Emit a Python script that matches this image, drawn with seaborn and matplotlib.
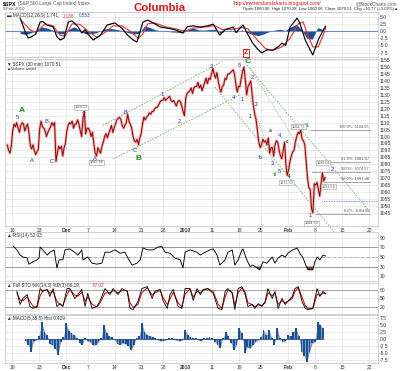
import numpy as np
import matplotlib
matplotlib.use("Agg")
import matplotlib.pyplot as plt
import seaborn as sns

sns.set_theme(style="white")
plt.rcParams['font.family'] = ['Liberation Sans', 'DejaVu Sans']

# ---------------- data (x = trading-day index, Nov 13 2009 = 0) ----------------
tick_days = [1, 6, 11, 15, 20, 25, 29, 33, 38, 43, 47, 52, 57, 62, 67]
tick_labels = ["16", "23", "Dec", "7", "14", "21", "28", "2010", "11", "19", "25", "Feb", "8", "15", "22"]
bold_ticks = ["Dec", "2010", "Feb"]

# 30-min path condensed to 4 readings per trading day
price_days = [
    [1094, 1090, 1088, 1093], [1104, 1109, 1107, 1110], [1106, 1103, 1108, 1110],
    [1109, 1104, 1107, 1109], [1103, 1094, 1091, 1094], [1090, 1087, 1089, 1091],
    [1106, 1111, 1107, 1106], [1104, 1100, 1103, 1105], [1107, 1110, 1108, 1110],
    [1082, 1088, 1093, 1091], [1093, 1086, 1092, 1095], [1104, 1108, 1110, 1109],
    [1111, 1106, 1109, 1109], [1112, 1109, 1104, 1100], [1113, 1118, 1102, 1106],
    [1106, 1104, 1100, 1103], [1095, 1088, 1086, 1092], [1090, 1088, 1093, 1096],
    [1100, 1102, 1099, 1102], [1105, 1108, 1103, 1106], [1109, 1112, 1113, 1114],
    [1112, 1108, 1106, 1108], [1110, 1116, 1111, 1109], [1106, 1100, 1097, 1096],
    [1098, 1094, 1099, 1102], [1109, 1114, 1112, 1114], [1115, 1117, 1116, 1118],
    [1118, 1120, 1121, 1121], [1123, 1125, 1126, 1126], [1128, 1126, 1127, 1128],
    [1129, 1126, 1125, 1126], [1124, 1122, 1125, 1126], [1125, 1122, 1118, 1115],
    [1128, 1131, 1132, 1133], [1135, 1131, 1135, 1136], [1136, 1139, 1135, 1137],
    [1133, 1136, 1139, 1142], [1138, 1142, 1141, 1145], [1149, 1145, 1142, 1146],
    [1140, 1135, 1132, 1136], [1137, 1142, 1141, 1145], [1145, 1146, 1147, 1148],
    [1145, 1138, 1132, 1136], [1136, 1142, 1147, 1150], [1141, 1130, 1136, 1138],
    [1140, 1131, 1122, 1116], [1112, 1104, 1096, 1092], [1094, 1098, 1096, 1097],
    [1094, 1099, 1088, 1092], [1092, 1086, 1094, 1097], [1096, 1090, 1086, 1084],
    [1090, 1096, 1080, 1072], [1076, 1082, 1086, 1089], [1090, 1096, 1100, 1103],
    [1102, 1104.7, 1098, 1097], [1094, 1082, 1070, 1063], [1062, 1048, 1045, 1066],
    [1065, 1067, 1062, 1057], [1066, 1074, 1068, 1070.5],
]

macd_x = [2.5, 3.0, 3.6, 4.0, 4.6, 5.4, 6.2, 6.7, 7.5, 8.6, 9.3, 9.9, 10.6, 11.4, 12.1, 13.2,
          13.9, 14.5, 15.0, 16.0, 17.3, 18.6, 20.0, 21.3, 22.4, 23.4, 24.1, 25.2, 26.1, 27.4,
          28.4, 29.7, 31.1, 32.6, 33.4, 34.5, 35.8, 37.2, 38.2, 39.4, 40.4, 41.9, 42.4, 43.7,
          44.4, 45.5, 46.5, 47.2, 48.1, 49.2, 50.2, 50.9, 51.6, 52.4, 53.3, 53.7, 54.2, 55.2,
          56.1, 56.6, 57.6, 58.3, 59.0]
macd_v = [4.5, 2.0, -1.0, -2.4, -2.0, -1.0, 3.1, 3.3, 2.0, 1.5, -2.0, -3.1, -2.5, 3.1, 3.5, 1.5,
          -0.7, 0.5, -1.0, -3.1, -1.5, 2.1, 2.8, 1.0, -1.5, -3.1, -3.8, 3.1, 3.8, 2.5,
          1.4, 1.0, 0.5, -0.7, 1.5, 1.8, 1.4, 1.8, 2.4, -1.4, 0.5, 1.4, -0.5, 2.1,
          -0.5, -4.2, -6.5, -7.6, -6.5, -6.6, -5.5, -4.2, -5.0, 1.4, 3.5, 4.5, 2.8, -3.1,
          -6.5, -8.3, -3.1, -0.5, 1.74]
signal_x = [2.8, 4.3, 5.4, 7.1, 8.6, 9.9, 10.8, 12.1, 13.6, 15.0, 16.7, 18.2, 19.7, 21.3, 22.8,
            24.3, 25.2, 26.1, 27.4, 29.3, 31.1, 33.0, 34.5, 36.7, 38.5, 39.8, 41.7, 43.5, 44.6,
            46.3, 47.8, 49.1, 50.9, 52.4, 53.9, 54.8, 55.7, 56.6, 57.6, 58.5, 59.0]
signal_v = [3.5, 0.5, -0.5, 2.5, 1.8, -1.5, -1.8, 2.5, 2.3, 0.0, -2.2, -0.5, 1.8, 1.8, 0.0,
            -2.5, -1.0, 2.5, 2.8, 1.5, 0.8, 0.0, 1.0, 1.4, 1.9, 0.5, 0.6, 1.2, 0.8,
            -3.0, -6.0, -6.8, -5.5, -2.5, 2.5, 3.2, -1.5, -5.5, -5.5, -1.5, 1.19]
macd_hist = [-0.8, -1.2, -0.6, 0.2, 1.4, 1.0, 0.3, -0.8, -1.0, 0.6, 1.5, 0.3, -0.9, -1.0,
             -0.6, 0.2, 0.9, 0.8, 0.5, 0.1, -0.6, -1.0, -0.8, 1.8, 1.2, 0.4, 0.1, -0.1,
             -0.3, -0.4, -0.6, 0.5, 1.0, 0.4, 0.3, 0.5, 0.6, -0.6, 0.0, 0.3, -0.4, 0.4,
             -0.5, -1.2, -1.6, -1.0, -0.2, 0.3, 0.6, 0.2, 1.4, 2.3, 0.6, -2.5, -2.8, 1.2, 0.55]

rsi_x = [1.2, 1.9, 2.5, 3.0, 3.8, 4.1, 4.9, 5.6, 6.0, 6.2, 6.7, 7.5, 8.0, 8.8, 9.3, 9.7, 10.4,
         10.8, 11.7, 12.6, 13.2, 13.9, 14.1, 15.0, 15.8, 16.7, 17.6, 18.2, 19.1, 20.0, 21.0,
         21.9, 22.4, 23.2, 24.1, 24.7, 25.2, 26.1, 27.1, 28.0, 28.7, 29.3, 30.2, 31.1, 32.1,
         32.6, 33.0, 33.9, 35.2, 35.8, 36.7, 37.6, 38.2, 38.9, 39.4, 40.4, 40.9, 41.7, 42.2,
         42.8, 43.5, 43.7, 44.4, 45.0, 45.5, 46.3, 46.8, 47.4, 48.1, 49.1, 49.6, 50.2, 50.9,
         51.5, 52.0, 52.9, 53.7, 54.2, 54.8, 55.3, 55.7, 56.6, 57.0, 57.4, 57.9, 58.5, 59.0]
rsi_v = [73, 65, 54, 50, 48, 35, 40, 44, 48, 71, 65, 54, 60, 65, 27, 44, 44,
         65, 67, 60, 54, 65, 44, 50, 37, 35, 37, 60, 60, 65, 58,
         60, 48, 33, 37, 44, 69, 65, 65, 71, 72, 60, 58, 48, 44,
         27, 60, 65, 60, 54, 60, 65, 67, 54, 33, 44, 60, 65, 33,
         44, 65, 67, 44, 30, 33, 27, 23, 40, 37, 50, 37, 48, 54,
         50, 58, 65, 69, 58, 48, 33, 23, 23, 40, 50, 44, 54, 52]

sto_x = [1.9, 2.5, 3.0, 3.8, 4.3, 4.9, 5.6, 6.2, 6.7, 7.5, 8.0, 8.6, 9.3, 9.9, 10.4, 11.2,
         11.7, 12.6, 13.2, 13.9, 14.5, 15.0, 15.8, 16.7, 17.3, 18.2, 19.1, 19.7, 20.6, 21.3,
         22.3, 22.8, 23.4, 24.3, 25.0, 26.0, 26.9, 27.4, 28.4, 28.9, 29.7, 30.2, 30.8, 31.7,
         32.4, 33.0, 33.9, 34.5, 35.2, 35.8, 36.3, 37.2, 38.2, 39.1, 39.8, 40.4, 40.9, 41.7,
         42.2, 42.8, 43.5, 44.1, 44.6, 45.4, 45.9, 46.5, 47.2, 47.8, 48.3, 49.1, 49.6, 50.2,
         50.9, 51.5, 52.8, 53.3, 53.9, 54.6, 55.2, 55.7, 56.6, 57.4, 57.9, 58.5, 59.0]
sto_k = [75, 29, 50, 64, 22, 15, 22, 85, 75, 82, 57, 85, 22, 32, 22, 85,
         85, 50, 64, 82, 22, 68, 15, 22, 43, 85, 64, 85, 64, 85,
         75, 15, 11, 40, 85, 92, 50, 75, 82, 43, 15, 64, 82, 22,
         15, 85, 85, 43, 85, 64, 82, 85, 68, 15, 11, 75, 85, 68,
         11, 85, 92, 64, 22, 29, 15, 32, 22, 40, 85, 50, 75, 15,
         50, 29, 57, 85, 92, 40, 15, 11, 15, 85, 57, 75, 66]
sto_d = [70, 45, 42, 55, 40, 22, 18, 60, 78, 80, 68, 75, 40, 28, 25, 65,
         82, 62, 58, 72, 40, 55, 30, 20, 35, 70, 70, 78, 70, 78,
         78, 35, 18, 30, 70, 88, 62, 70, 78, 55, 28, 48, 72, 35,
         20, 65, 84, 55, 75, 70, 78, 84, 74, 30, 15, 55, 80, 72,
         25, 70, 88, 72, 35, 28, 20, 28, 25, 35, 70, 60, 70, 30,
         42, 35, 50, 75, 88, 55, 25, 14, 14, 65, 62, 70, 67]

hist2 = [-0.6, -2.1, -4.5, -0.8, -0.4, 1.2, 6.2, 2.4, 1.5, -1.8, -2.2, -3.5, -5.7, -1.0,
         0.8, 5.6, 3.0, 2.0, 1.5, 0.5, -1.5, -2.0, 0.5, -0.8, -1.2, -2.3, -2.0, -1.0,
         0.5, 5.0, 2.0, 1.0, 0.8, -0.5, -1.8, -2.0, -1.5, -1.8, -2.5, -4.0, -2.0, 0.5,
         1.0, 5.6, 2.5, 1.5, 1.2, 0.8, 0.3, -0.5, -0.8, -0.6, -0.4, 0.3, 0.2, -0.3,
         -0.5, -0.8, -0.4, 3.2, 1.5, 0.6, 0.4, 0.3, -0.5, -0.7, 0.2, 0.5, 0.6, 0.4,
         -1.0, -2.0, -3.3, 0.5, 2.6, 1.0, -1.5, -4.0, -2.0, 3.8, 2.0, -5.1, -3.0, -3.3,
         -2.0, -1.0, -0.5, 0.8, 3.2, 1.5, 3.2, 0.5, -2.0, 3.8, 0.5, -1.0, -0.8, 1.5,
         1.0, 2.5, 3.8, 1.0, -4.5, -6.0, -8.1, -4.5, -1.5, -1.0, 6.2, 5.0, 3.8]

wave_blue = [("5", 2.05, 1114), ("A", 4.6, 1082.4), ("B", 7.3, 1111), ("C", 8.3, 1082),
             ("X", 14.2, 1117.8), ("A", 16.3, 1084.5), ("B", 21.9, 1117.6), ("C", 23.7, 1090.3),
             ("1", 28.7, 1130.4), ("2", 31.9, 1110.7), ("3", 37.9, 1150.7), ("4", 41.9, 1127.9),
             ("5", 43.1, 1151.4), ("1", 43.6, 1126.8), ("2", 45.5, 1142.3), ("3", 49.2, 1080.7),
             ("4", 50.5, 1101), ("5", 50.4, 1074.7), ("1", 56.2, 1043.5), ("2", 60.3, 1076)]
wave_green = [("A", 2.9, 1119, 6.0), ("B", 24.3, 1084.3, 6.0), ("C", 44.6, 1153.8, 6.0),
              ("ii", 49.7, 1072.5, 4.0), ("iii", 55.5, 1107.6, 4.0)]
wave_black = [("1", 44.9, 1114.2), ("2", 46.2, 1123.2), ("a", 48.7, 1104), ("b", 46.9, 1085),
              ("c", 51.8, 1096.3), ("4", 52.3, 1071.1)]
price_boxes = [("1119.13", 13.8, 1121.2), ("1085.88", 16.7, 1081.4), ("1104.73", 53.9, 1107.0),
               ("1071.59", 51.8, 1066.8), ("1044.50", 56.4, 1037.5), ("1090.04", 58.5, 1081.0),
               ("1063.56", 59.5, 1064.0)]
fib_names = ["100.0%: 1104.65", "61.8%: 1081.67", "50.0%: 1074.57", "38.2%: 1067.48", "0.0%: 1044.50"]
fib_levels = [1104.65, 1081.67, 1074.57, 1067.48, 1044.50]
fib_start = [56.0, 58.5, 56.5, 58.5, 57.0]
fib_end = 67.2
green_lines = [((17.8, 1108.0), (39.8, 1153.8)), ((19.7, 1083.8), (43.1, 1129.9)),
               ((44.4, 1151.4), (67.2, 1045.7)), ((38.5, 1135.6), (62.2, 1023.4))]
gray_lines = [((43.1, 1149.3), (49.6, 1077.3)), ((45.0, 1149.3), (54.2, 1091.0))]
support_level, support_start = 1053.8, 58.3

# ---------------- layout helpers ----------------
W, H = 400, 371
fig = plt.figure(figsize=(W / 100, H / 100), dpi=100)
fig.patch.set_facecolor("white")
XL, XR = 5, 378
X0 = 1 + (XL - 12) / 5.41
X1 = 1 + (XR - 12) / 5.41


def add_ax(top, bottom):
    return fig.add_axes([XL / W, 1 - bottom / H, (XR - XL) / W, (bottom - top) / H])


def ftext(x, y, s, **kw):
    fig.text(x / W, 1 - y / H, s, **kw)


GRID = "#e3e3e3"
TXT = "#333333"
FS = 3.6
BLUE = "#1d4f91"


def style(ax, ylo, yhi, yticks, ylabels, xlabels=False):
    ax.set_xlim(X0, X1)
    ax.set_ylim(ylo, yhi)
    ax.set_facecolor("white")
    for s in ax.spines.values():
        s.set_color("#bdbdbd")
        s.set_linewidth(0.5)
    ax.yaxis.tick_right()
    ax.set_yticks(yticks)
    ax.set_yticklabels(ylabels, fontsize=FS, color=TXT)
    ax.set_xticks(tick_days)
    if xlabels:
        ax.set_xticklabels(tick_labels, fontsize=FS, color=TXT)
        for t in ax.get_xticklabels():
            if t.get_text() in bold_ticks:
                t.set_fontweight("bold")
    else:
        ax.set_xticklabels([])
    ax.tick_params(axis="both", length=0, pad=1.2)
    for v in tick_days:
        ax.axvline(v, color=GRID, lw=0.5, zorder=0)
    for v in yticks:
        ax.axhline(v, color=GRID, lw=0.5, zorder=0)


def clean(ax):
    ax.set_xlabel("")
    ax.set_ylabel("")
    leg = ax.get_legend()
    if leg is not None:
        leg.remove()


# ---------------- MACD (12,26,9) ----------------
ax1 = add_ax(12, 57)
style(ax1, -9.0, 6.6, [5.0, 2.5, 0.0, -2.5, -5.0, -7.5], ["5.0", "2.5", "0.0", "-2.5", "-5.0", "-7.5"])
hx = np.arange(len(macd_hist)) + 2.5
ax1.fill_between(hx, 0, macd_hist, color=BLUE, lw=0, zorder=2)
ax1.axhline(0, color="#6d8fc0", lw=0.8, zorder=2)
sns.lineplot(x=signal_x, y=signal_v, ax=ax1, color="#e8393a", lw=0.85, estimator=None, zorder=3)
sns.lineplot(x=macd_x, y=macd_v, ax=ax1, color="black", lw=0.85, estimator=None, zorder=4)
clean(ax1)
ax1.text(0.005, 0.97, "\u25ac MACD(12,26,9) 1.741, ", transform=ax1.transAxes, fontsize=3.3, color=TXT, va="top")
ax1.text(0.155, 0.97, "1.188,", transform=ax1.transAxes, fontsize=3.3, color="#e8393a", va="top")
ax1.text(0.197, 0.97, "0.553", transform=ax1.transAxes, fontsize=3.3, color=BLUE, va="top")

# ---------------- Price ----------------
ax2 = add_ax(59, 226)
plevels = list(range(1045, 1156, 5))
style(ax2, 1035.6, 1155.8, plevels, [str(v) for v in plevels], xlabels=True)
px = [d + (k + 0.5) / 4 for d in range(len(price_days)) for k in range(4)]
pv = [v for day in price_days for v in day]
sns.lineplot(x=px, y=pv, ax=ax2, color="#f1b3b3", lw=2.0, estimator=None, zorder=3)
sns.lineplot(x=px, y=pv, ax=ax2, color="#8e0c0c", lw=0.75, estimator=None, zorder=4)
clean(ax2)
for (x0, y0), (x1, y1) in green_lines:
    ax2.plot([x0, x1], [y0, y1], color="#6dbb6d", lw=0.6, ls=(0, (2, 1.5)), zorder=2, clip_on=False)
for (x0, y0), (x1, y1) in gray_lines:
    ax2.plot([x0, x1], [y0, y1], color="#9a9a9a", lw=0.5, ls=(0, (1.5, 1.5)), zorder=2)
for name, lvl, st in zip(fib_names, fib_levels, fib_start):
    ax2.plot([st, fib_end], [lvl, lvl], color="#9a9a9a", lw=0.6, zorder=2)
    ax2.text(fib_end - 0.2, lvl + 0.6, name, fontsize=2.9, color="#555555", ha="right", va="bottom")
ax2.plot([support_start, X1], [support_level, support_level], color="#6a6ae0", lw=0.6,
         ls=(0, (1, 1)), zorder=2)
for s, x, y in wave_blue:
    ax2.text(x, y, s, fontsize=4.2, color="#2a2ae8", ha="center", va="center", zorder=6)
for s, x, y, f in wave_green:
    ax2.text(x, y, s, fontsize=f, color="#1d8a1d", ha="center", va="center", zorder=6, fontweight="bold")
for s, x, y in wave_black:
    ax2.text(x, y, s, fontsize=3.4, color="black", ha="center", va="center", zorder=6)
for s, x, y in price_boxes:
    ax2.text(x, y, s, fontsize=2.7, color="#555555", ha="center", va="center", zorder=6,
             bbox=dict(boxstyle="square,pad=0.15", fc="white", ec="#9a9a9a", lw=0.4))
ax2.text(0.005, 0.985, "\u25bc $SPX (30 min) 1070.51", transform=ax2.transAxes, fontsize=3.3, color=TXT, va="top")
ax2.text(0.005, 0.955, "\u25b2Volume undef", transform=ax2.transAxes, fontsize=3.0, color=TXT, va="top")

# ---------------- RSI ----------------
ax3 = add_ax(232, 281)
style(ax3, -0.5, 102.6, [90, 70, 50, 30, 10], ["90", "70", "50", "30", "10"])
ax3.axhline(70, color="#8c8c8c", lw=0.6, zorder=1)
ax3.axhline(30, color="#8c8c8c", lw=0.6, zorder=1)
ax3.axhline(50, color="#9a9a9a", lw=0.5, ls=(0, (4, 1.5, 1, 1.5)), zorder=1)
rv = np.array(rsi_v, dtype=float)
ax3.fill_between(rsi_x, 30, rv, where=rv < 30, interpolate=True, color="#7d3b32", lw=0, zorder=2)
sns.lineplot(x=rsi_x, y=rsi_v, ax=ax3, color="black", lw=0.65, estimator=None, zorder=3)
clean(ax3)
ax3.text(0.005, 0.97, "\u25b2 RSI(14) 52.03", transform=ax3.transAxes, fontsize=3.3, color=TXT, va="top")

# ---------------- Full STO ----------------
ax4 = add_ax(283, 314)
style(ax4, -4.7, 104.7, [80, 50, 20], ["80", "50", "20"])
ax4.axhline(80, color="#9a9a9a", lw=0.6, zorder=1)
ax4.axhline(20, color="#9a9a9a", lw=0.6, zorder=1)
sns.lineplot(x=sto_x, y=sto_d, ax=ax4, color="#c01010", lw=0.75, estimator=None, zorder=3)
sns.lineplot(x=sto_x, y=sto_k, ax=ax4, color="black", lw=0.6, estimator=None, zorder=4)
clean(ax4)
ax4.text(0.005, 0.99, "\u25b2 Full STO %K(14,3) %D(3) 66.19, ", transform=ax4.transAxes, fontsize=3.3, color=TXT, va="top")
ax4.text(0.235, 0.99, "67.02", transform=ax4.transAxes, fontsize=3.3, color="#e8393a", va="top")

# ---------------- MACD (5,35,5) histogram ----------------
ax5 = add_ax(315, 363)
style(ax5, -8.6, 8.6, [7.5, 5.0, 2.5, 0.0, -2.5, -5.0, -7.5],
      ["7.5", "5.0", "2.5", "0.0", "-2.5", "-5.0", "-7.5"], xlabels=True)
h2x = np.arange(len(hist2)) * 0.5 + 3.5
ax5.bar(h2x, hist2, width=0.34, color=BLUE, lw=0, zorder=2)
ax5.fill_between(h2x, 0, hist2, color=BLUE, alpha=0.55, lw=0, zorder=2)
sns.lineplot(x=h2x, y=np.zeros(len(h2x)), ax=ax5, color=BLUE, lw=0.6, estimator=None, zorder=3)
clean(ax5)
ax5.text(0.005, 0.985, "\u25b2 MACD(5,35,5) Hist 0.429", transform=ax5.transAxes, fontsize=3.3, color=TXT, va="top")

# ---------------- header ----------------
ftext(3, 3.5, "$SPX", fontsize=3.8, fontweight="bold", color="black", va="center")
ftext(18, 3.5, "(S&P 500 Large Cap Index) Index", fontsize=3.4, color="#555555", va="center")
ftext(3, 9, "9-Feb-2010", fontsize=3.2, color="#555555", va="center")
ftext(160, 8, "Columbia", fontsize=8.2, fontweight="bold", color="#e01010", ha="center", va="center")
ftext(277, 3.5, "http://ewtrendandcharts.blogspot.com/", fontsize=3.7, color="#e01010", ha="center", va="center")
ftext(397, 3.5, "@StockCharts.com", fontsize=3.4, color="#555555", ha="right", va="center")
ftext(398, 9, "Open 1060.06  High 1070.28  Low 1060.06  Close 1070.51  Chg +10.77 (+1.02%)\u25b2",
      fontsize=3.1, color="#222222", ha="right", va="center")
fig.text(246 / W, 1 - 53 / H, "Z", fontsize=5, color="#e01010", ha="center", va="center", fontweight="bold",
         bbox=dict(boxstyle="square,pad=0.1", fc="white", ec="#e01010", lw=0.6), zorder=10)

fig.savefig("out.png", dpi=100, facecolor="white")
